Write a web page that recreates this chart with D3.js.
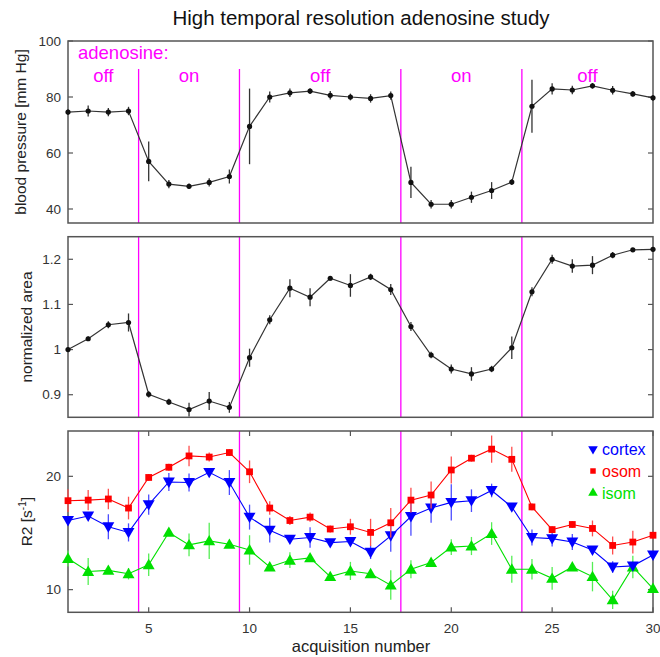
<!DOCTYPE html>
<html>
<head>
<meta charset="utf-8">
<script src="https://cdn.jsdelivr.net/npm/d3@7"></script>
<style>
  body { margin: 0; background: #fff; }
  svg text { font-family: "Liberation Sans", Arial, sans-serif; }
  .frame { fill: none; stroke: #555; stroke-width: 1.5; }
  .tick-label { font-size: 13.5px; fill: #333; }
  .axis-label { font-size: 15.5px; fill: #222; }
  .period { font-size: 18.5px; fill: #ff00ff; }
</style>
</head>
<body>
<svg id="chart" width="660" height="657"></svg>
<script>
  // acquisition numbers 1..30
  var acq = [1, 2, 3, 4, 5, 6, 7, 8, 9, 10, 11, 12, 13, 14, 15, 16, 17, 18, 19, 20, 21, 22, 23, 24, 25, 26, 27, 28, 29, 30];

  // switch points between adenosine off / on
  var switches = [4.5, 9.5, 17.5, 23.5];
  var periods = [
    { label: 'off', from: 1, to: 4.5 },
    { label: 'on', from: 4.5, to: 9.5 },
    { label: 'off', from: 9.5, to: 17.5 },
    { label: 'on', from: 17.5, to: 23.5 },
    { label: 'off', from: 23.5, to: 30 }
  ];

  var bp = [74.6, 75.0, 74.6, 75.0, 57.0, 48.9, 48.1, 49.5, 51.6, 69.5, 80.0, 81.5, 82.1, 80.6, 80.0, 79.5, 80.5,
            49.5, 41.7, 41.7, 44.2, 46.6, 49.6, 76.7, 82.9, 82.5, 84.0, 82.4, 81.1, 79.7];
  var bpErr = [1, 2, 1.5, 1.5, 7.1, 1.5, 1, 1.5, 2.5, 13.5, 2, 1.5, 1, 1.5, 1.2, 1.5, 1.5,
               5.6, 1.5, 1.5, 2, 3, 1, 9.5, 2, 1.5, 1, 1.5, 1, 1];

  var area = [1.0, 1.024, 1.055, 1.06, 0.901, 0.884, 0.867, 0.886, 0.872, 0.982, 1.066, 1.136, 1.116, 1.158, 1.142,
              1.161, 1.133, 1.051, 0.988, 0.957, 0.946, 0.957, 1.004, 1.128, 1.2, 1.185, 1.187, 1.209, 1.221, 1.222];
  var areaErr = [0.003, 0.005, 0.008, 0.02, 0.007, 0.007, 0.015, 0.02, 0.012, 0.02, 0.01, 0.02, 0.02, 0.005, 0.025,
                 0.007, 0.012, 0.01, 0.007, 0.01, 0.015, 0.007, 0.025, 0.01, 0.01, 0.015, 0.02, 0.007, 0.004, 0.004];

  var cortex = [16.1, 16.5, 15.55, 15.05, 17.5, 19.5, 19.45, 20.35, 19.45, 16.4, 15.25, 14.45, 14.6, 14.15, 14.25,
                13.3, 14.75, 16.45, 17.2, 17.7, 17.85, 18.75, 17.3, 14.6, 14.5, 14.2, 13.5, 12.0, 12.1, 13.05];
  var cortexErr = [0.3, 0.3, 1.1, 0.8, 0.9, 0.8, 0.8, 0.3, 1.1, 1.1, 1.1, 0.3, 0.9, 0.3, 0.3,
                   0.6, 1.4, 1.7, 1.3, 1.6, 1.0, 0.6, 0.3, 0.7, 0.7, 0.7, 0.3, 0.5, 0.3, 0.3];
  var osom = [17.85, 17.9, 18.0, 17.2, 19.9, 20.8, 21.8, 21.7, 22.1, 20.4, 17.2, 16.1, 16.4, 15.35, 15.55,
              15.05, 15.9, 17.9, 18.35, 20.56, 21.6, 22.4, 21.5, 17.3, 15.3, 15.75, 15.4, 13.9, 14.2, 14.8];
  var osomErr = [1.0, 0.9, 0.9, 1.0, 0.3, 0.3, 0.9, 0.4, 0.3, 1.0, 0.6, 0.4, 0.4, 0.3, 0.7,
                 1.2, 1.3, 1.1, 1.2, 1.2, 0.3, 1.2, 1.1, 0.3, 0.3, 0.3, 0.7, 0.8, 1.0, 0.3];
  var isom = [12.75, 11.6, 11.7, 11.4, 12.2, 15.05, 13.95, 14.3, 14.0, 13.5, 12.0, 12.6, 12.8, 11.15, 11.65,
              11.4, 10.4, 11.8, 12.4, 13.75, 13.85, 14.95, 11.8, 11.8, 11.0, 12.0, 11.15, 9.1, 12.0, 10.1];
  var isomErr = [0.7, 1.2, 0.3, 0.5, 1.0, 0.3, 1.0, 1.6, 0.3, 1.3, 0.3, 0.7, 0.3, 0.3, 0.8,
                 0.3, 1.3, 0.8, 0.3, 0.7, 0.8, 1.0, 1.2, 0.9, 1.0, 0.3, 1.3, 0.8, 1.0, 0.3];

  var bpTicks = [40, 60, 80, 100];
  var areaTicks = [0.9, 1.0, 1.1, 1.2];
  var areaTickLabels = ['0.9', '1', '1.1', '1.2'];
  var r2Ticks = [10, 20];
  var xTicks = [5, 10, 15, 20, 25, 30];

  var svg = d3.select('#chart');
  var left = 68, right = 653;

  var x = d3.scaleLinear().domain([1, 30]).range([left, right]);

  var panels = [
    { top: 41, bottom: 223, domain: [35, 100] },
    { top: 236.7, bottom: 417.3, domain: [0.85, 1.25] },
    { top: 431, bottom: 612.3, domain: [8, 24] }
  ];
  panels.forEach(function(p) {
    p.y = d3.scaleLinear().domain(p.domain).range([p.bottom, p.top]);
  });

  // title
  svg.append('text')
    .attr('x', 361)
    .attr('y', 25)
    .attr('text-anchor', 'middle')
    .style('font-size', '20.5px')
    .style('fill', '#111')
    .text('High temporal resolution adenosine study');

  function drawFrame(p, yTicks, yLabels, withX) {
    var g = svg.append('g');

    // magenta switch lines
    g.selectAll('line.switch')
      .data(switches)
      .enter().append('line')
      .attr('class', 'switch')
      .attr('x1', function(d) { return x(d); })
      .attr('x2', function(d) { return x(d); })
      .attr('y1', p.switchTop || p.top)
      .attr('y2', p.bottom)
      .style('stroke', '#ff00ff')
      .style('stroke-width', 1.3);

    // y ticks, inward on both sides
    yTicks.forEach(function(t, i) {
      var yy = p.y(t);
      g.append('line')
        .attr('x1', left).attr('x2', left + 5)
        .attr('y1', yy).attr('y2', yy)
        .style('stroke', '#555').style('stroke-width', 1.2);
      g.append('line')
        .attr('x1', right).attr('x2', right - 5)
        .attr('y1', yy).attr('y2', yy)
        .style('stroke', '#555').style('stroke-width', 1.2);
      g.append('text')
        .attr('class', 'tick-label')
        .attr('x', left - 7)
        .attr('y', yy)
        .attr('dy', '0.35em')
        .attr('text-anchor', 'end')
        .text(yLabels[i]);
    });

    if (withX) {
      xTicks.forEach(function(t) {
        var xx = x(t);
        g.append('line')
          .attr('x1', xx).attr('x2', xx)
          .attr('y1', p.bottom).attr('y2', p.bottom - 5)
          .style('stroke', '#555').style('stroke-width', 1.2);
        g.append('line')
          .attr('x1', xx).attr('x2', xx)
          .attr('y1', p.top).attr('y2', p.top + 5)
          .style('stroke', '#555').style('stroke-width', 1.2);
        g.append('text')
          .attr('class', 'tick-label')
          .attr('x', xx)
          .attr('y', p.bottom + 16)
          .attr('dy', '0.35em')
          .attr('text-anchor', 'middle')
          .text(t);
      });
    }

    g.append('rect')
      .attr('class', 'frame')
      .attr('x', left)
      .attr('y', p.top)
      .attr('width', right - left)
      .attr('height', p.bottom - p.top);

    return g;
  }

  function drawSeries(p, values, errs, color, errColor, lineWidth) {
    var g = svg.append('g');
    var pts = acq.map(function(a, i) { return { a: a, v: values[i], e: errs[i] }; });

    g.selectAll('line.err')
      .data(pts)
      .enter().append('line')
      .attr('class', 'err')
      .attr('x1', function(d) { return x(d.a); })
      .attr('x2', function(d) { return x(d.a); })
      .attr('y1', function(d) { return p.y(d.v - d.e); })
      .attr('y2', function(d) { return p.y(d.v + d.e); })
      .style('stroke', errColor)
      .style('stroke-width', 1.3);

    g.append('path')
      .datum(pts)
      .attr('d', d3.line().x(function(d) { return x(d.a); }).y(function(d) { return p.y(d.v); }))
      .style('fill', 'none')
      .style('stroke', color)
      .style('stroke-width', lineWidth);

    return { g: g, pts: pts };
  }

  // ---- panel 1: blood pressure
  panels[0].switchTop = 69;
  drawFrame(panels[0], bpTicks, bpTicks, false);
  var s1 = drawSeries(panels[0], bp, bpErr, '#333', '#333', 1.2);
  s1.g.selectAll('circle')
    .data(s1.pts)
    .enter().append('circle')
    .attr('cx', function(d) { return x(d.a); })
    .attr('cy', function(d) { return panels[0].y(d.v); })
    .attr('r', 2.6)
    .style('fill', '#111');

  svg.append('text')
    .attr('class', 'period')
    .attr('x', 78)
    .attr('y', 59)
    .text('adenosine:');
  svg.selectAll('text.period-label')
    .data(periods)
    .enter().append('text')
    .attr('class', 'period period-label')
    .attr('x', function(d) { return x((d.from + d.to) / 2); })
    .attr('y', 82)
    .attr('text-anchor', 'middle')
    .text(function(d) { return d.label; });

  // ---- panel 2: normalized area
  drawFrame(panels[1], areaTicks, areaTickLabels, false);
  var s2 = drawSeries(panels[1], area, areaErr, '#333', '#333', 1.2);
  s2.g.selectAll('circle')
    .data(s2.pts)
    .enter().append('circle')
    .attr('cx', function(d) { return x(d.a); })
    .attr('cy', function(d) { return panels[1].y(d.v); })
    .attr('r', 2.6)
    .style('fill', '#111');

  // ---- panel 3: R2
  drawFrame(panels[2], r2Ticks, r2Ticks, true);
  var p3 = panels[2];
  var triDown = d3.symbol().type(d3.symbolTriangle).size(62);
  var square = d3.symbol().type(d3.symbolSquare).size(46);
  var triUp = d3.symbol().type(d3.symbolTriangle).size(62);

  var series3 = [
    { name: 'isom', values: isom, errs: isomErr, color: '#00e000', err: '#55ee55', sym: triUp, rot: 0, dy: 1 },
    { name: 'cortex', values: cortex, errs: cortexErr, color: '#0000ff', err: '#4d4dff', sym: triDown, rot: 180, dy: -1 },
    { name: 'osom', values: osom, errs: osomErr, color: '#ff0000', err: '#ff4d4d', sym: square, rot: 0, dy: 0 }
  ];
  series3.forEach(function(s) {
    var r = drawSeries(p3, s.values, s.errs, s.color, s.err, 1.1);
    r.g.selectAll('path.mark')
      .data(r.pts)
      .enter().append('path')
      .attr('class', 'mark')
      .attr('d', s.sym)
      .attr('transform', function(d) {
        return 'translate(' + x(d.a) + ',' + (p3.y(d.v) + s.dy) + ') rotate(' + s.rot + ')';
      })
      .style('fill', s.color);
  });

  // legend
  var legend = [
    { name: 'cortex', color: '#0000ff', type: d3.symbolTriangle, size: 40, rot: 180, y: 449 },
    { name: 'osom', color: '#ff0000', type: d3.symbolSquare, size: 30, rot: 0, y: 471 },
    { name: 'isom', color: '#00e000', type: d3.symbolTriangle, size: 40, rot: 0, y: 493 }
  ];
  legend.forEach(function(l) {
    svg.append('path')
      .attr('d', d3.symbol().type(l.type).size(l.size))
      .attr('transform', 'translate(593,' + l.y + ') rotate(' + l.rot + ')')
      .style('fill', l.color);
    svg.append('text')
      .attr('x', 602)
      .attr('y', l.y)
      .attr('dy', '0.35em')
      .style('font-size', '16px')
      .style('fill', l.color)
      .text(l.name);
  });

  // axis labels
  function yLabel(p, cx, txt) {
    return svg.append('text')
      .attr('class', 'axis-label')
      .attr('transform', 'translate(' + cx + ',' + ((p.top + p.bottom) / 2) + ') rotate(-90)')
      .attr('text-anchor', 'middle')
      .text(txt);
  }
  yLabel(panels[0], 26, 'blood pressure [mm Hg]');
  yLabel(panels[1], 32, 'normalized area');
  var r2 = yLabel(panels[2], 32, 'R2 [s');
  r2.append('tspan').attr('dy', -6).style('font-size', '10px').text('-1');
  r2.append('tspan').attr('dy', 6).text(']');

  svg.append('text')
    .attr('class', 'axis-label')
    .attr('x', 361)
    .attr('y', 652)
    .attr('text-anchor', 'middle')
    .style('font-size', '16.5px')
    .text('acquisition number');
</script>
</body>
</html>
